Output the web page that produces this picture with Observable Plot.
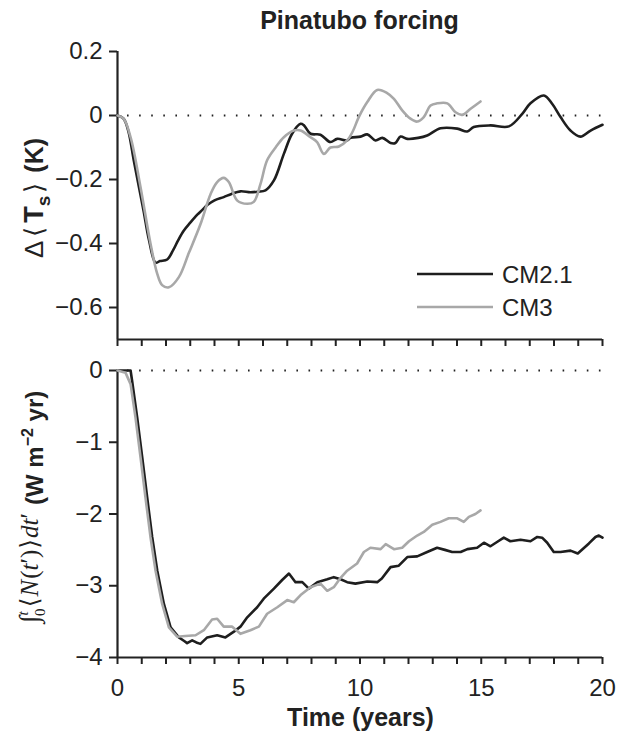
<!DOCTYPE html>
<html>
<head>
<meta charset="utf-8">
<script src="https://cdn.jsdelivr.net/npm/d3@7"></script>
<script src="https://cdn.jsdelivr.net/npm/@observablehq/plot@0.6"></script>
<style>
  html, body { margin: 0; padding: 0; background: #fff; }
  #wrap { position: relative; width: 617px; height: 732px; overflow: hidden; }
  #wrap svg { display: block; position: absolute; left: 0; overflow: visible; max-width: none; }
</style>
</head>
<body>
<div id="wrap"></div>
<script>
// ---------- data ----------
const titleText = "Pinatubo forcing";
const xLabelText = "Time (years)";
const seriesNames = ["CM2.1", "CM3"];
const seriesColors = ["#1e1e1e", "#a8a8a8"];

const xDomain = [0, 20];
const yearTicks = d3.range(0, 21);
const xLabelTicks = [0, 5, 10, 15, 20];

const tsDomain = [-0.7, 0.2];
const tsTicks = [0.2, 0, -0.2, -0.4, -0.6];
const nDomain = [-4, 0];
const nTicks = [0, -1, -2, -3, -4];

// Delta <Ts> (K), [year, value]
const tsCM21 = [
  [0,0],[0.25,-0.01],[0.45,-0.05],[0.67,-0.14],[0.9,-0.23],[1.08,-0.30],[1.3,-0.39],[1.57,-0.46],
  [1.75,-0.455],[2.05,-0.45],[2.3,-0.42],[2.5,-0.39],[2.73,-0.36],[3.0,-0.335],[3.29,-0.31],
  [3.5,-0.295],[3.7,-0.28],[4.0,-0.265],[4.38,-0.255],[4.7,-0.245],[5.07,-0.237],[5.48,-0.24],
  [5.8,-0.238],[6.1,-0.234],[6.45,-0.203],[6.86,-0.12],[7.2,-0.057],[7.55,-0.026],[7.68,-0.03],
  [7.96,-0.057],[8.37,-0.06],[8.78,-0.083],[9.06,-0.073],[9.47,-0.078],[9.61,-0.07],[10.02,-0.066],
  [10.3,-0.059],[10.64,-0.078],[10.92,-0.07],[11.26,-0.086],[11.46,-0.086],[11.67,-0.066],
  [11.95,-0.073],[12.4,-0.07],[12.77,-0.0625],[13.32,-0.04],[14.01,-0.041],[14.42,-0.05],
  [14.69,-0.036],[15.38,-0.031],[16.14,-0.034],[16.69,0.005],[17.03,0.038],[17.58,0.0625],
  [17.93,0.036],[18.27,-0.005],[18.68,-0.047],[19.09,-0.066],[19.51,-0.047],[20,-0.029]
];
const tsCM3 = [
  [0,0],[0.25,-0.01],[0.54,-0.068],[0.95,-0.224],[1.36,-0.40],[1.64,-0.495],[1.84,-0.53],
  [2.12,-0.537],[2.53,-0.505],[2.94,-0.43],[3.42,-0.34],[3.84,-0.245],[4.11,-0.208],[4.38,-0.195],
  [4.59,-0.208],[4.94,-0.266],[5.35,-0.276],[5.62,-0.27],[5.9,-0.213],[6.17,-0.14],[6.52,-0.10],
  [6.86,-0.068],[7.27,-0.047],[7.55,-0.047],[7.96,-0.068],[8.23,-0.083],[8.51,-0.12],[8.78,-0.10],
  [9.13,-0.097],[9.47,-0.078],[9.7,-0.05],[9.95,-0.005],[10.3,0.042],[10.71,0.08],[11.12,0.07],
  [11.4,0.052],[11.74,0.016],[12.08,-0.01],[12.36,-0.019],[12.63,-0.005],[12.91,0.031],
  [13.18,0.038],[13.6,0.038],[13.94,0.01],[14.21,0.002],[14.56,0.021],[14.97,0.044]
];
// integral of <N> (W m-2 yr), [year, value]
const nCM21 = [
  [0,0],[0.3,0],[0.54,0],[0.6,-0.14],[0.81,-0.65],[1.02,-1.21],[1.22,-1.76],[1.43,-2.32],
  [1.64,-2.79],[1.91,-3.25],[2.19,-3.58],[2.53,-3.72],[2.75,-3.77],[2.87,-3.80],[3.08,-3.76],
  [3.25,-3.79],[3.42,-3.81],[3.7,-3.72],[4.11,-3.69],[4.45,-3.72],[4.8,-3.64],[5.07,-3.57],
  [5.35,-3.44],[5.76,-3.30],[6.03,-3.18],[6.45,-3.04],[6.79,-2.92],[7.07,-2.83],[7.34,-2.95],
  [7.62,-2.95],[7.89,-3.04],[8.24,-2.95],[8.65,-2.91],[8.92,-2.88],[9.2,-2.91],[9.47,-2.95],
  [9.81,-2.97],[10.3,-2.94],[10.71,-2.95],[10.9,-2.9],[11.26,-2.74],[11.6,-2.72],[11.95,-2.60],
  [12.36,-2.59],[12.77,-2.53],[13.18,-2.47],[13.5,-2.5],[13.8,-2.53],[14.15,-2.53],[14.43,-2.49],
  [14.83,-2.47],[15.11,-2.40],[15.38,-2.45],[15.65,-2.39],[15.93,-2.33],[16.2,-2.38],[16.62,-2.36],
  [17.03,-2.38],[17.31,-2.32],[17.51,-2.33],[17.72,-2.40],[17.99,-2.53],[18.27,-2.53],[18.68,-2.51],
  [18.98,-2.55],[19.44,-2.41],[19.71,-2.32],[19.85,-2.30],[20,-2.33]
];
const nCM3 = [
  [0,0],[0.33,-0.03],[0.54,-0.19],[0.74,-0.65],[0.95,-1.21],[1.15,-1.76],[1.36,-2.32],[1.57,-2.79],
  [1.84,-3.25],[2.12,-3.58],[2.46,-3.71],[2.8,-3.70],[3.22,-3.69],[3.56,-3.62],[3.9,-3.47],
  [4.11,-3.46],[4.38,-3.57],[4.73,-3.57],[5.07,-3.67],[5.48,-3.62],[5.83,-3.57],[6.17,-3.39],
  [6.59,-3.30],[7.0,-3.20],[7.27,-3.23],[7.55,-3.13],[7.96,-3.02],[8.37,-2.97],[8.65,-3.07],
  [8.92,-3.02],[9.2,-2.89],[9.47,-2.79],[9.88,-2.69],[10.16,-2.53],[10.43,-2.47],[10.85,-2.49],
  [11.06,-2.42],[11.4,-2.49],[11.74,-2.47],[12.02,-2.38],[12.36,-2.30],[12.63,-2.25],[12.98,-2.15],
  [13.32,-2.11],[13.66,-2.06],[14.01,-2.06],[14.28,-2.11],[14.49,-2.04],[14.76,-2.00],[14.97,-1.95]
];

// ---------- rendering ----------
const toRows = arr => arr.map(([year, value]) => ({year, value}));
const SANS = "'Liberation Sans', Arial, Helvetica, sans-serif";
const SERIF = "'Liberation Serif', 'Times New Roman', 'DejaVu Serif', serif";
const INK = "#222";
const fmt = d3.format("~g");
const W = 617;
const ML = 117, MR = 15;

const baseStyle = {fontFamily: SANS, fontSize: "24px", color: INK, background: "transparent", overflow: "visible"};

function dotted() {
  return Plot.ruleY([0], {stroke: INK, strokeWidth: 1.8, strokeDasharray: "1.6,10.5", strokeDashoffset: -10});
}

const topChart = Plot.plot({
  width: W, height: 350,
  marginLeft: ML, marginRight: MR, marginTop: 51, marginBottom: 11,
  style: baseStyle,
  x: {domain: xDomain},
  y: {domain: tsDomain},
  marks: [
    dotted(),
    Plot.axisY({ticks: tsTicks, tickSize: 8, tickPadding: 7, tickFormat: fmt, label: null, strokeWidth: 2, stroke: INK}),
    Plot.axisX({ticks: yearTicks, tickSize: 7, tickFormat: () => "", label: null, strokeWidth: 2, stroke: INK}),
    Plot.ruleX([xDomain[0]], {stroke: INK, strokeWidth: 2.2}),
    Plot.ruleY([tsDomain[0]], {stroke: INK, strokeWidth: 2.2}),
    Plot.line(toRows(tsCM21), {x: "year", y: "value", stroke: seriesColors[0], strokeWidth: 2.6, curve: "catmull-rom"}),
    Plot.line(toRows(tsCM3), {x: "year", y: "value", stroke: seriesColors[1], strokeWidth: 2.6, curve: "catmull-rom"})
  ]
});

const bottomChart = Plot.plot({
  width: W, height: 382,
  marginLeft: ML, marginRight: MR, marginTop: 20, marginBottom: 75,
  style: baseStyle,
  x: {domain: xDomain},
  y: {domain: nDomain},
  marks: [
    dotted(),
    Plot.axisY({ticks: nTicks, tickSize: 8, tickPadding: 7, tickFormat: fmt, label: null, strokeWidth: 2, stroke: INK}),
    Plot.axisX({ticks: yearTicks, tickSize: 7, tickFormat: () => "", label: null, strokeWidth: 2, stroke: INK}),
    Plot.axisX({ticks: xLabelTicks, tickSize: 0, tickPadding: 21, tickFormat: fmt, label: null}),
    Plot.ruleX([xDomain[0]], {stroke: INK, strokeWidth: 2.2}),
    Plot.ruleY([nDomain[0]], {stroke: INK, strokeWidth: 2.2}),
    Plot.line(toRows(nCM21), {x: "year", y: "value", stroke: seriesColors[0], strokeWidth: 2.6}),
    Plot.line(toRows(nCM3), {x: "year", y: "value", stroke: seriesColors[1], strokeWidth: 2.6})
  ]
});

const wrap = document.getElementById("wrap");
topChart.style.top = "0px";
bottomChart.style.top = "350px";
wrap.appendChild(topChart);
wrap.appendChild(bottomChart);

const plotCenter = ML + (W - ML - MR) / 2;

// title
const ts = d3.select(topChart);
ts.append("text")
  .attr("x", plotCenter).attr("y", 29)
  .attr("text-anchor", "middle")
  .attr("font-family", SANS).attr("font-weight", "bold").attr("font-size", 25)
  .attr("fill", INK)
  .text(titleText);

// legend
const legendX1 = 417, legendX2 = 493, legendY0 = 274, legendDY = 33;
seriesNames.forEach((name, i) => {
  const y = legendY0 + i * legendDY;
  ts.append("line").attr("x1", legendX1).attr("x2", legendX2).attr("y1", y).attr("y2", y)
    .attr("stroke", seriesColors[i]).attr("stroke-width", 2.6);
  ts.append("text").attr("x", legendX2 + 9).attr("y", y + 9)
    .attr("text-anchor", "start")
    .attr("font-family", SANS).attr("font-size", 24).attr("fill", INK)
    .text(name);
});

// top y label: Δ⟨T_s⟩ (K)
const tl = ts.append("text")
  .attr("transform", "translate(43,198) rotate(-90)")
  .attr("text-anchor", "middle")
  .attr("font-family", SANS).attr("font-size", 25).attr("fill", INK);
tl.append("tspan").attr("font-weight", "normal").attr("font-size", 26).text("Δ");
tl.append("tspan").attr("font-weight", "normal").attr("font-size", 26).attr("dx", 4).text("⟨");
tl.append("tspan").attr("font-weight", "bold").attr("font-size", 27).attr("dx", 4).text("T");
tl.append("tspan").attr("font-weight", "bold").attr("font-size", 19).attr("dy", 7).text("s");
tl.append("tspan").attr("font-weight", "normal").attr("font-size", 26).attr("dy", -7).attr("dx", 3).text("⟩");
tl.append("tspan").attr("font-weight", "bold").attr("dx", 10).text("(K)");

// x label
const bs = d3.select(bottomChart);
bs.append("text")
  .attr("x", plotCenter + 1).attr("y", 376)
  .attr("text-anchor", "middle")
  .attr("font-family", SANS).attr("font-weight", "bold").attr("font-size", 25)
  .attr("fill", INK)
  .text(xLabelText);

// bottom y label: ∫_0^t ⟨N(t')⟩dt' (W m^-2 yr)
const bl = bs.append("text")
  .attr("transform", "translate(43,157) rotate(-90)")
  .attr("text-anchor", "middle")
  .attr("font-family", SERIF).attr("font-size", 25).attr("fill", INK);
bl.append("tspan").attr("font-size", 27).attr("dy", -5).text("∫");
bl.append("tspan").attr("font-size", 15).attr("dy", 7).text("0");
bl.append("tspan").attr("font-size", 15).attr("font-style", "italic").attr("dx", -7).attr("dy", -17).text("t");
bl.append("tspan").attr("dy", 10).attr("dx", 4).text("⟨");
bl.append("tspan").attr("font-style", "italic").attr("dx", 1).text("N");
bl.append("tspan").attr("dx", 1).text("(");
bl.append("tspan").attr("font-style", "italic").text("t");
bl.append("tspan").text("′)");
bl.append("tspan").attr("dx", 1).text("⟩");
bl.append("tspan").attr("font-style", "italic").attr("dx", 1).text("dt");
bl.append("tspan").text("′");
bl.append("tspan").attr("font-family", SANS).attr("font-weight", "bold").attr("font-size", 24).attr("dy", 5).attr("dx", 8).text("(W m");
bl.append("tspan").attr("font-family", SANS).attr("font-weight", "bold").attr("font-size", 16).attr("dy", -10).text("−2");
bl.append("tspan").attr("font-family", SANS).attr("font-weight", "bold").attr("font-size", 24).attr("dy", 10).text(" yr)");
</script>
</body>
</html>
